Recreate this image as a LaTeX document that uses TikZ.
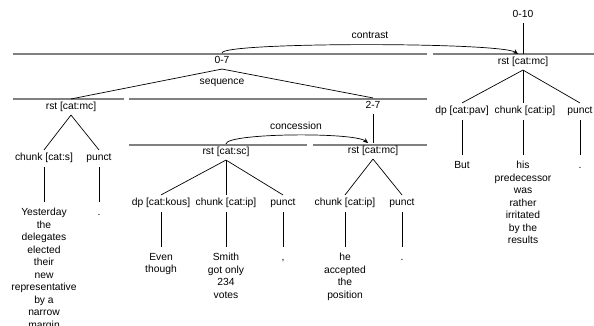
\documentclass[tikz,border=0pt]{standalone}
\usepackage{fontspec}
\setmainfont{Liberation Sans}
\usetikzlibrary{arrows.meta}
\definecolor{spangray}{RGB}{128,128,128}
\begin{document}
\begin{tikzpicture}[x=1pt,y=-1pt,
  lbl/.style={font=\fontsize{10.3}{12.5}\selectfont, inner xsep=1pt, inner ysep=3pt, text height=7.5pt, text depth=2.2pt},
  word/.style={font=\fontsize{10.3}{12.5}\selectfont, align=center, inner sep=0pt, anchor=north, execute at begin node={\rule{0pt}{7.5pt}}},
  span/.style={draw=spangray, line width=1.3pt},
  conn/.style={draw=black, line width=0.7pt},
  down/.style={draw=black, line width=0.7pt, shorten <=1pt, shorten >=6.5pt},
  rel/.style={draw=black, line width=0.7pt, -{Stealth[length=5pt,width=4.5pt]}}
]
\useasboundingbox (0,0) rectangle (594,326);

% span lines
\draw[span] (13,54) -- (427,54);
\draw[span] (433,54) -- (594,54);
\draw[span] (13,99) -- (124,99);
\draw[span] (129,99) -- (427,99);
\draw[span] (129,145) -- (307,145);
\draw[span] (313,145) -- (427,145);

% labels
\node[lbl] (n010) at (523,15) {0-10};
\node[lbl] (rstR) at (523,62) {rst [cat:mc]};
\node[lbl] (contrast) at (370,36) {contrast};
\node[lbl] (n07) at (222,61) {0-7};
\node[lbl] (seq) at (222,82) {sequence};
\node[lbl] (rstL) at (71,107) {rst [cat:mc]};
\node[lbl] (n27) at (373,106) {2-7};
\node[lbl] (chunkS) at (44,158) {chunk [cat:s]};
\node[lbl] (punctL) at (99,158) {punct};
\node[lbl] (conc) at (296,127) {concession};
\node[lbl] (rstSC) at (226,152) {rst [cat:sc]};
\node[lbl] (rstM) at (373,151) {rst [cat:mc]};
\node[lbl] (dpK) at (161,203) {dp [cat:kous]};
\node[lbl] (chunkA) at (226,203) {chunk [cat:ip]};
\node[lbl] (punctA) at (283,203) {punct};
\node[lbl] (chunkB) at (345,203) {chunk [cat:ip]};
\node[lbl] (punctB) at (402,203) {punct};
\node[lbl] (dpP) at (462,111) {dp [cat:pav]};
\node[lbl] (chunkC) at (525,111) {chunk [cat:ip]};
\node[lbl] (punctC) at (580,111) {punct};

% words
\node[word] (wYest) at (44,208) {Yesterday\\the\\delegates\\elected\\their\\new\\representative\\by a\\narrow\\margin};
\node[word] (wDot1) at (99,208) {.};
\node[word] (wEven) at (161,253) {Even\\though};
\node[word] (wSmith) at (226,253) {Smith\\got only\\234\\votes};
\node[word] (wComma) at (283,253) {,};
\node[word] (wHe) at (345,253) {he\\accepted\\the\\position};
\node[word] (wDot2) at (402,253) {.};
\node[word] (wBut) at (462,161) {But};
\node[word] (wHis) at (523,161) {his\\predecessor\\was\\rather\\irritated\\by the\\results};
\node[word] (wDot3) at (580,161) {.};

% tree connectors
\draw[conn] (n010.south) -- (rstR.north);
\draw[conn] (n07.south) -- (rstL.north);
\draw[conn] (n07.south) -- (n27.north);
\draw[conn] (n27.south) -- (rstM.north);
\draw[conn] (rstR.south) -- (dpP.north);
\draw[conn] (rstR.south) -- (rstR.south |- chunkC.north);
\draw[conn] (rstR.south) -- (punctC.north);
\draw[conn] (rstL.south) -- (chunkS.north);
\draw[conn] (rstL.south) -- (punctL.north);
\draw[conn] (rstSC.south) -- (dpK.north);
\draw[conn] (rstSC.south) -- (chunkA.north);
\draw[conn] (rstSC.south) -- (punctA.north);
\draw[conn] (rstM.south) -- (chunkB.north);
\draw[conn] (rstM.south) -- (punctB.north);

% label to words
\draw[down] (chunkS.south) -- (wYest.north);
\draw[down] (punctL.south) -- (wDot1.north);
\draw[down] (dpK.south) -- (wEven.north);
\draw[down] (chunkA.south) -- (wSmith.north);
\draw[down] (punctA.south) -- (wComma.north);
\draw[down] (chunkB.south) -- (wHe.north);
\draw[down] (punctB.south) -- (wDot2.north);
\draw[down] (dpP.south) -- (wBut.north);
\draw[down] (wHis.north |- chunkC.south) -- (wHis.north);
\draw[down] (punctC.south) -- (wDot3.north);

% relations
\draw[rel] (n07.north) .. controls +(0,-11) and +(-18,-12) .. ([xshift=-5pt]rstR.north);
\draw[rel] (rstSC.north) .. controls +(0,-11) and +(-14,-11) .. ([xshift=-5pt]rstM.north);
\end{tikzpicture}
\end{document}
